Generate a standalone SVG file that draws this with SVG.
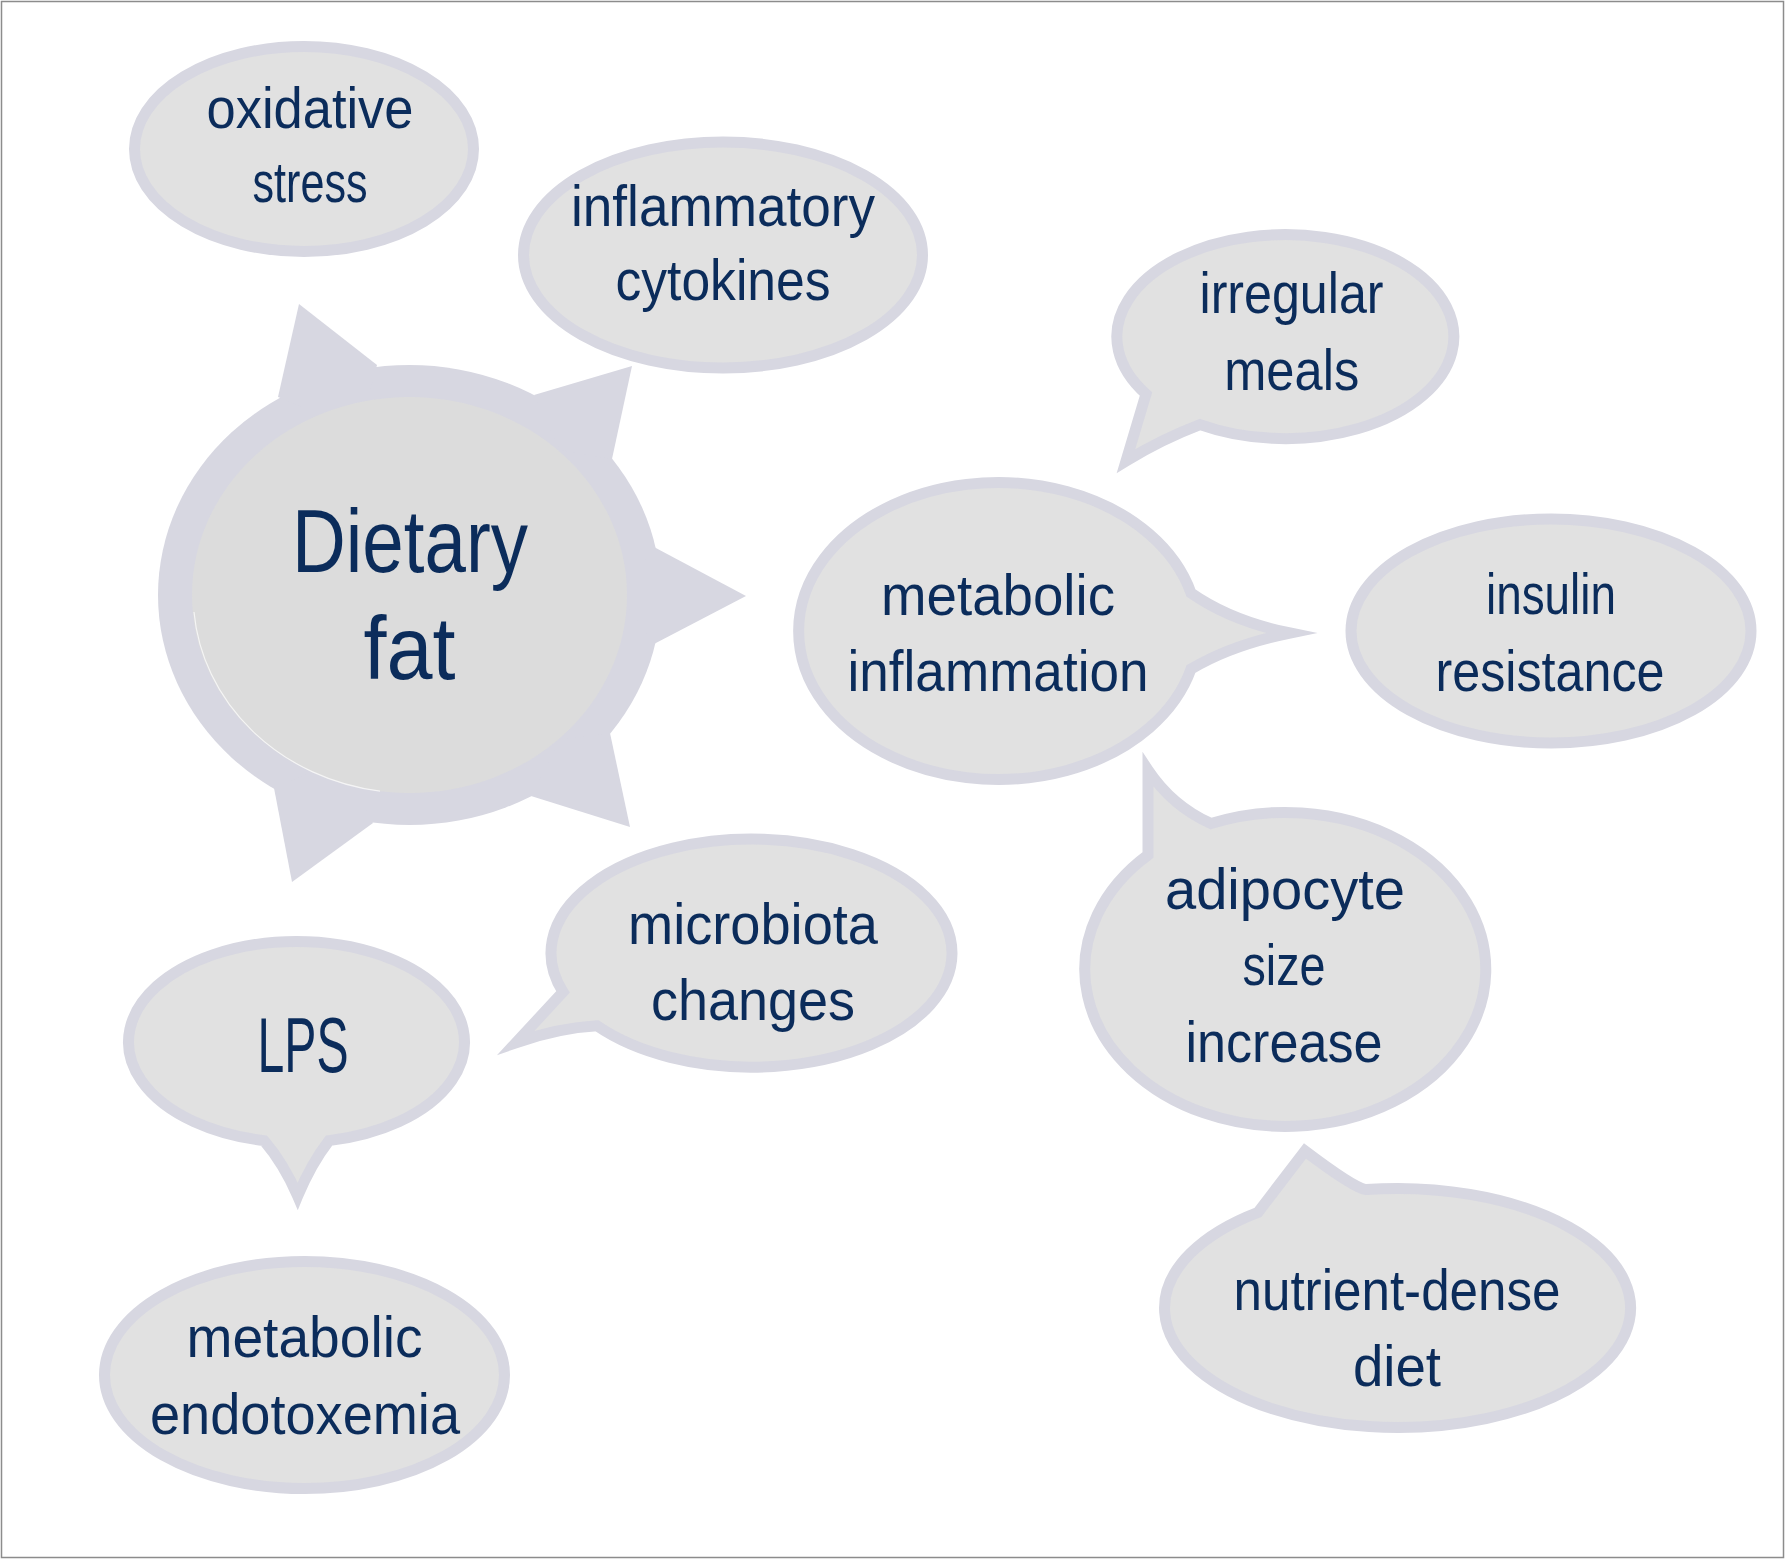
<svg xmlns="http://www.w3.org/2000/svg" width="1785" height="1560" viewBox="0 0 1785 1560">
<style>
.b{fill:#e1e1e1;stroke:#d7d7e1;stroke-width:11;stroke-linejoin:miter;stroke-miterlimit:12}
.t{font-family:"Liberation Sans",Arial,sans-serif;font-size:58px;fill:#0b2c5b;text-anchor:middle}
.t.big{font-size:89px}
.t.lps{font-size:78px}
.star{fill:#d7d7e1}
</style>
<rect x="1.5" y="1.5" width="1782" height="1556" fill="#ffffff" stroke="#8c8c8c" stroke-width="1.5"/>
<g id="connectors"></g>
<g id="dietary-fat">
<g class="star">
<ellipse cx="409.5" cy="595" rx="251.5" ry="230"/>
<polygon points="299,304 377,365 360,430 278,397"/>
<polygon points="632,366 612,459 560,450 534,395"/>
<polygon points="746,596 654,644 620,596 654,547"/>
<polygon points="630,827 531,796 560,740 610,733"/>
<polygon points="292,882 274,788 340,760 373,823"/>
</g>
<ellipse cx="409.5" cy="595" rx="217.5" ry="198" fill="#dcdcdc"/>
<path d="M 194,612 A 217.5 198 0 0 0 380,791.2" fill="none" stroke="#ffffff" stroke-width="1.2" opacity="0.7"/>
<text class="t big" x="410" y="572" textLength="236" lengthAdjust="spacingAndGlyphs">Dietary</text>
<text class="t big" x="409.6" y="679" textLength="92" lengthAdjust="spacingAndGlyphs">fat</text>
</g>
<g id="oxidative-stress">
<ellipse class="b" cx="304" cy="149" rx="169.5" ry="102.5"/>
<text class="t" x="310" y="127.5" textLength="207" lengthAdjust="spacingAndGlyphs">oxidative</text>
<text class="t" x="310" y="202" textLength="115" lengthAdjust="spacingAndGlyphs">stress</text>
</g>
<g id="inflammatory-cytokines">
<ellipse class="b" cx="723" cy="255" rx="199.5" ry="113"/>
<text class="t" x="723" y="226" textLength="304" lengthAdjust="spacingAndGlyphs">inflammatory</text>
<text class="t" x="723" y="300" textLength="215" lengthAdjust="spacingAndGlyphs">cytokines</text>
</g>
<g id="irregular-meals">
<path class="b" d="M 1200,424.6 A 168.5 102 0 1 0 1146,394 L 1126,461 Q 1162,439 1200,424.6 Z"/>
<text class="t" x="1291.5" y="312.5" textLength="184" lengthAdjust="spacingAndGlyphs">irregular</text>
<text class="t" x="1291.7" y="390" textLength="135" lengthAdjust="spacingAndGlyphs">meals</text>
</g>
<g id="metabolic-inflammation">
<path class="b" d="M 1191,593 Q 1231,621 1290,633 Q 1231,645 1191,669 A 199.5 148.5 0 1 1 1191,593 Z"/>
<text class="t" x="998" y="615" textLength="234" lengthAdjust="spacingAndGlyphs">metabolic</text>
<text class="t" x="998" y="691" textLength="301" lengthAdjust="spacingAndGlyphs">inflammation</text>
</g>
<g id="insulin-resistance">
<ellipse class="b" cx="1551" cy="631" rx="200" ry="112"/>
<text class="t" x="1551" y="614.3" textLength="130" lengthAdjust="spacingAndGlyphs">insulin</text>
<text class="t" x="1550" y="690.5" textLength="229" lengthAdjust="spacingAndGlyphs">resistance</text>
</g>
<g id="adipocyte-size-increase">
<path class="b" d="M 1148,855 L 1148,770 Q 1172,806 1211,823.6 A 200.5 157 0 1 1 1148,855 Z"/>
<text class="t" x="1285" y="909" textLength="240" lengthAdjust="spacingAndGlyphs">adipocyte</text>
<text class="t" x="1284" y="985" textLength="83" lengthAdjust="spacingAndGlyphs">size</text>
<text class="t" x="1284" y="1062" textLength="197" lengthAdjust="spacingAndGlyphs">increase</text>
</g>
<g id="microbiota-changes">
<path class="b" d="M 597,1025.8 Q 558,1028 516,1042.7 L 563,992 A 200.5 114 0 1 1 597,1025.8 Z"/>
<text class="t" x="753" y="944" textLength="250" lengthAdjust="spacingAndGlyphs">microbiota</text>
<text class="t" x="753" y="1019.6" textLength="204" lengthAdjust="spacingAndGlyphs">changes</text>
</g>
<g id="lps">
<path class="b" d="M 329,1140.6 A 168 100.5 0 1 0 264,1140.6 Q 284,1164 297.7,1196 Q 311,1164 329,1140.6 Z"/>
<text class="t lps" x="303" y="1071.5" textLength="91" lengthAdjust="spacingAndGlyphs">LPS</text>
</g>
<g id="metabolic-endotoxemia">
<ellipse class="b" cx="304.5" cy="1375" rx="200" ry="113.5"/>
<text class="t" x="304.5" y="1357.4" textLength="236" lengthAdjust="spacingAndGlyphs">metabolic</text>
<text class="t" x="305" y="1434" textLength="310" lengthAdjust="spacingAndGlyphs">endotoxemia</text>
</g>
<g id="nutrient-dense-diet">
<path class="b" d="M 1258,1212.3 L 1305,1151 Q 1354,1188 1366,1189.6 A 233 119.5 0 1 1 1258,1212.3 Z"/>
<text class="t" x="1397" y="1310" textLength="327" lengthAdjust="spacingAndGlyphs">nutrient-dense</text>
<text class="t" x="1397" y="1385.6" textLength="88" lengthAdjust="spacingAndGlyphs">diet</text>
</g>
</svg>
